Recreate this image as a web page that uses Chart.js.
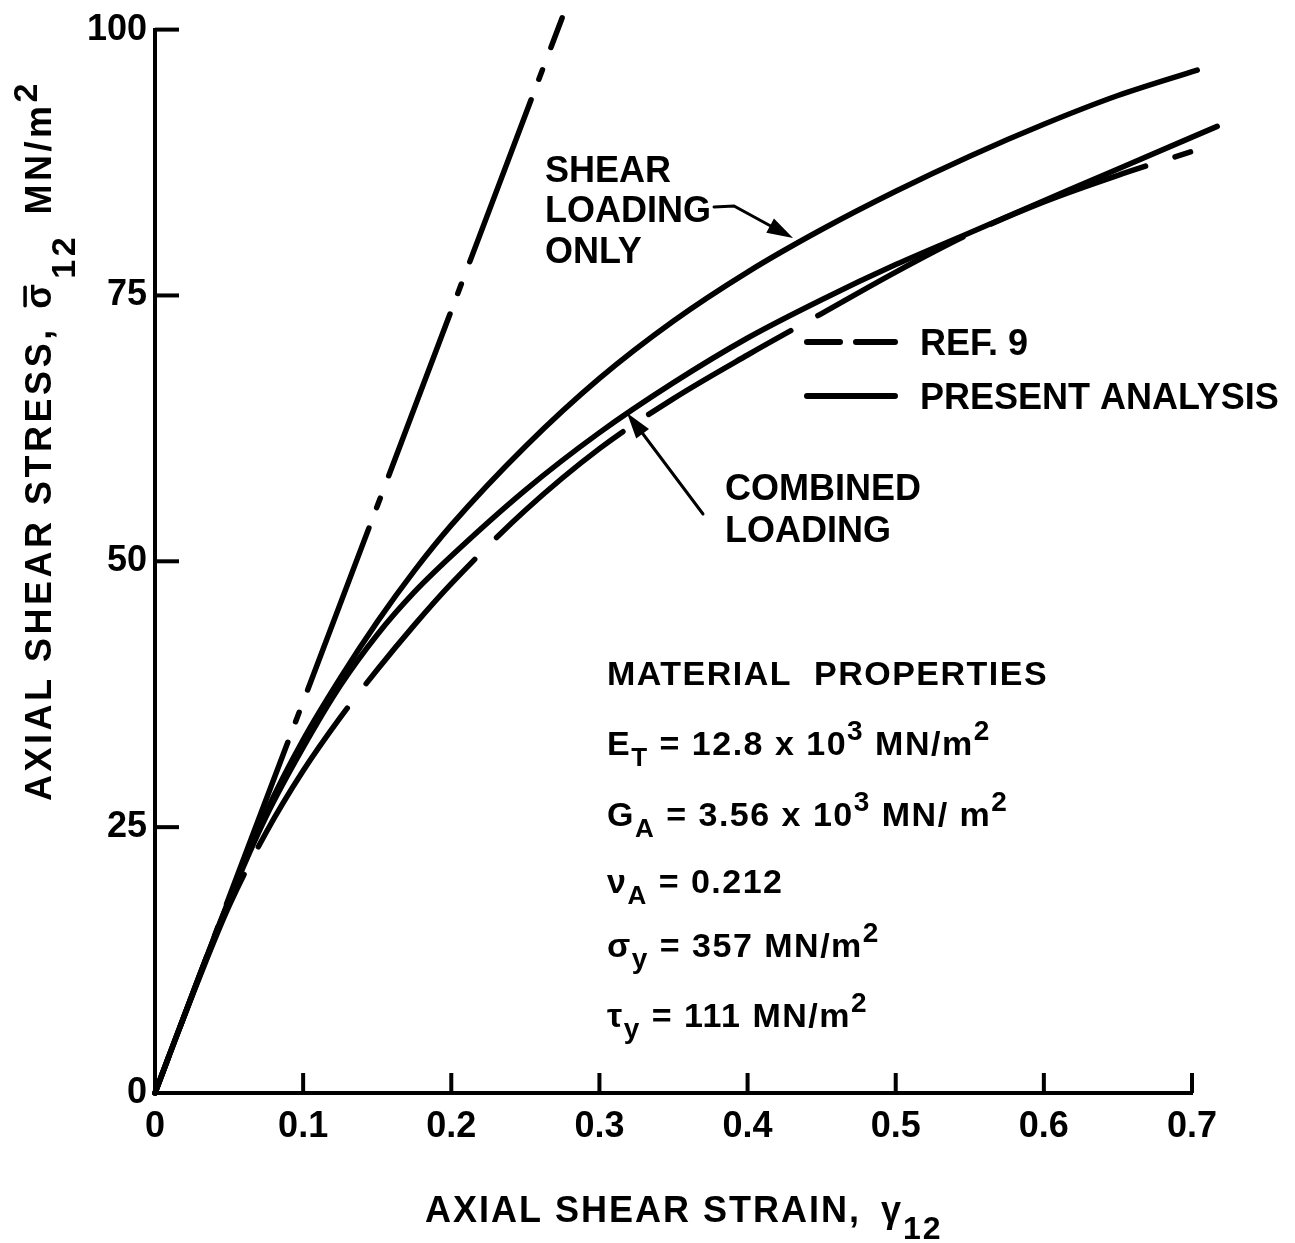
<!DOCTYPE html>
<html>
<head>
<meta charset="utf-8">
<title>Axial shear stress vs strain</title>
<script src="https://cdn.jsdelivr.net/npm/chart.js@4.4.1/dist/chart.umd.min.js"></script>
<style>
  html, body { margin: 0; padding: 0; background: #fff; }
  #wrap { width: 1295px; height: 1243px; position: relative; }
</style>
</head>
<body>
<div id="wrap"><canvas id="chart"></canvas></div>
<script>
(function () {
  'use strict';

  // --- valores
  const xTicks = [0, 0.1, 0.2, 0.3, 0.4, 0.5, 0.6, 0.7];
  const xTickLabels = ['0', '0.1', '0.2', '0.3', '0.4', '0.5', '0.6', '0.7'];
  const yTicks = [0, 25, 50, 75, 100];
  const yTickLabels = ['0', '25', '50', '75', '100'];

  // reta elástica (traço-ponto)
  const elasticX = [0, 0.2748];
  const elasticY = [0, 101.1];

  // present analysis - shear loading only
  const shearX = [0, 0.025, 0.05, 0.075, 0.1, 0.125, 0.15, 0.175, 0.2, 0.25, 0.3, 0.35, 0.4, 0.45, 0.5, 0.55, 0.6, 0.65, 0.7035];
  const shearY = [0, 9.2, 18.2, 26.4, 33.2, 39.0, 44.3, 49.1, 53.4, 60.8, 67.2, 72.6, 77.2, 81.2, 84.8, 88.1, 91.1, 93.8, 96.2];

  // present analysis - combined loading
  const combX = [0, 0.025, 0.05, 0.075, 0.1, 0.125, 0.15, 0.175, 0.2, 0.25, 0.3, 0.35, 0.4, 0.45, 0.5, 0.55, 0.6, 0.65, 0.717];
  const combY = [0, 9.2, 18.1, 26.0, 32.5, 38.3, 43.1, 47.1, 50.5, 56.7, 62.1, 66.8, 71.0, 74.6, 77.9, 80.9, 83.9, 86.9, 90.9];

  // Ref. 9 (tracejada)
  const ref9X = [0, 0.025, 0.05, 0.075, 0.1, 0.125, 0.15, 0.175, 0.2, 0.25, 0.3, 0.35, 0.4, 0.45, 0.5, 0.55, 0.6, 0.65, 0.699];
  const ref9Y = [0, 9.1, 17.6, 24.5, 30.3, 35.3, 39.8, 44.0, 47.9, 54.8, 60.6, 65.3, 69.4, 73.3, 77.2, 80.8, 83.8, 86.3, 88.5];

  const FONT = '"Liberation Sans", Arial, sans-serif';
  const INK = '#000';

  function pts(xs, ys) { return xs.map((x, i) => ({ x: x, y: ys[i] })); }

  function curve(label, xs, ys, extra) {
    return Object.assign({
      label: label,
      data: pts(xs, ys),
      borderColor: INK,
      borderWidth: 5.5,
      borderCapStyle: 'round',
      borderJoinStyle: 'round',
      pointRadius: 0,
      fill: false,
      clip: false,
      cubicInterpolationMode: 'monotone'
    }, extra || {});
  }

  // texto com sub/sobrescritos (avança da esquerda p/ direita)
  function drawRuns(ctx, x, y, runs, size, spacing, measureOnly) {
    let cx = x;
    runs.forEach(r => {
      const sz = r.size || size;
      ctx.font = `bold ${sz}px ${FONT}`;
      ctx.letterSpacing = (spacing || 0) + 'px';
      const w = ctx.measureText(r.t).width;
      if (!measureOnly) {
        ctx.fillText(r.t, cx, y + (r.dy || 0));
        if (r.bar) {
          ctx.save();
          ctx.lineWidth = 3.5;
          ctx.lineCap = 'round';
          ctx.beginPath();
          ctx.moveTo(cx + 3, y - sz * 0.72);
          ctx.lineTo(cx + w - spacing - 3, y - sz * 0.72);
          ctx.stroke();
          ctx.restore();
        }
      }
      cx += w + (r.gap || 0);
    });
    ctx.letterSpacing = '0px';
    return cx - x;
  }

  function arrowHead(ctx, fx, fy, tx, ty, len, half) {
    const a = Math.atan2(ty - fy, tx - fx);
    ctx.beginPath();
    ctx.moveTo(tx, ty);
    ctx.lineTo(tx - len * Math.cos(a) + half * Math.sin(a), ty - len * Math.sin(a) - half * Math.cos(a));
    ctx.lineTo(tx - len * Math.cos(a) - half * Math.sin(a), ty - len * Math.sin(a) + half * Math.cos(a));
    ctx.closePath();
    ctx.fill();
  }

  const figurePlugin = {
    id: 'figurePlugin',
    afterDatasetsDraw(chart) {
      const { ctx, chartArea } = chart;
      const xs = chart.scales.x, ys = chart.scales.y;
      ctx.save();
      ctx.strokeStyle = INK;
      ctx.lineWidth = 4;
      ctx.lineCap = 'butt';
      // marcas para dentro
      yTicks.forEach(v => {
        if (v === 0) return;
        const py = ys.getPixelForValue(v);
        ctx.beginPath();
        ctx.moveTo(chartArea.left, py);
        ctx.lineTo(chartArea.left + 24, py);
        ctx.stroke();
      });
      xTicks.forEach(v => {
        if (v === 0) return;
        const px = xs.getPixelForValue(v);
        ctx.beginPath();
        ctx.moveTo(px, chartArea.bottom);
        ctx.lineTo(px, chartArea.bottom - 20);
        ctx.stroke();
      });
      ctx.restore();
    },
    afterDraw(chart) {
      const { ctx } = chart;
      ctx.save();
      ctx.fillStyle = INK;
      ctx.strokeStyle = INK;
      ctx.textAlign = 'left';
      ctx.textBaseline = 'alphabetic';

      // legenda
      ctx.lineWidth = 6;
      ctx.lineCap = 'round';
      ctx.beginPath();
      ctx.moveTo(807, 342); ctx.lineTo(840, 342);
      ctx.moveTo(856, 342); ctx.lineTo(895, 342);
      ctx.moveTo(807, 396); ctx.lineTo(895, 396);
      ctx.stroke();
      ctx.font = `bold 36px ${FONT}`;
      ctx.fillText('REF. 9', 920, 355);
      ctx.fillText('PRESENT ANALYSIS', 920, 409);

      // rótulos das curvas
      ctx.fillText('SHEAR', 545, 182);
      ctx.fillText('LOADING', 545, 222);
      ctx.fillText('ONLY', 545, 263);
      ctx.fillText('COMBINED', 725, 500);
      ctx.fillText('LOADING', 725, 542);

      ctx.lineWidth = 3;
      ctx.lineCap = 'round';
      ctx.beginPath();
      ctx.moveTo(714, 207); ctx.lineTo(734, 206); ctx.lineTo(778, 230);
      ctx.stroke();
      arrowHead(ctx, 734, 206, 793, 238, 26, 8);

      ctx.beginPath();
      ctx.moveTo(703, 514); ctx.lineTo(640, 430);
      ctx.stroke();
      arrowHead(ctx, 703, 514, 627, 413, 26, 8);

      // propriedades do material
      const ms = 34, sp = 1.5;
      ctx.font = `bold ${ms}px ${FONT}`;
      ctx.letterSpacing = sp + 'px';
      ctx.fillText('MATERIAL  PROPERTIES', 607, 685);
      ctx.letterSpacing = '0px';
      drawRuns(ctx, 607, 755, [
        { t: 'E' }, { t: 'T', size: 26, dy: 11 }, { t: ' = 12.8 x 10' }, { t: '3', size: 28, dy: -15 }, { t: ' MN/m' }, { t: '2', size: 28, dy: -15 }
      ], ms, sp);
      drawRuns(ctx, 607, 826, [
        { t: 'G' }, { t: 'A', size: 26, dy: 11 }, { t: ' = 3.56 x 10' }, { t: '3', size: 28, dy: -15 }, { t: ' MN/ m' }, { t: '2', size: 28, dy: -15 }
      ], ms, sp);
      drawRuns(ctx, 607, 893, [
        { t: 'ν' }, { t: 'A', size: 26, dy: 11 }, { t: ' = 0.212' }
      ], ms, sp);
      drawRuns(ctx, 607, 957, [
        { t: 'σ' }, { t: 'y', size: 28, dy: 11 }, { t: ' = 357 MN/m' }, { t: '2', size: 28, dy: -15 }
      ], ms, sp);
      drawRuns(ctx, 607, 1027, [
        { t: 'τ' }, { t: 'y', size: 28, dy: 11 }, { t: ' = 111 MN/m' }, { t: '2', size: 28, dy: -15 }
      ], ms, sp);

      // título do eixo x
      drawRuns(ctx, 425, 1222, [
        { t: 'AXIAL SHEAR STRAIN, ', gap: 8 }, { t: 'γ' }, { t: '12', size: 32, dy: 17 }
      ], 36, 2);

      // título do eixo y (girado)
      const yRuns = [
        { t: 'AXIAL SHEAR STRESS, ', gap: 4 }, { t: 'σ', bar: true, gap: 2 }, { t: '12', size: 34, dy: 24, gap: 6 }, { t: ' MN/m' }, { t: '2', size: 34, dy: -14 }
      ];
      const ySp = 3.5;
      const w = drawRuns(ctx, 0, 0, yRuns, 36, ySp, true);
      ctx.translate(51, 80 + w);
      ctx.rotate(-Math.PI / 2);
      drawRuns(ctx, 0, 0, yRuns, 36, ySp);
      ctx.restore();
    }
  };

  new Chart(document.getElementById('chart'), {
    type: 'line',
    data: {
      datasets: [
        curve('Elastic line', elasticX, elasticY, { borderDash: [173, 22, 10, 24], borderDashOffset: 27, cubicInterpolationMode: 'default', tension: 0 }),
        curve('Ref. 9', ref9X, ref9Y, { borderDash: [165, 31], borderDashOffset: 125 }),
        curve('Present analysis - combined loading', combX, combY),
        curve('Present analysis - shear loading only', shearX, shearY)
      ]
    },
    options: {
      responsive: true,
      maintainAspectRatio: false,
      animation: false,
      layout: { padding: { left: 0, right: 103, top: 27, bottom: 0 } },
      plugins: { legend: { display: false }, tooltip: { enabled: false } },
      scales: {
        x: {
          type: 'linear',
          min: 0,
          max: 0.7,
          afterBuildTicks: (s) => { s.ticks = xTicks.map(v => ({ value: v })); },
          afterFit: (s) => { s.height = 150; },
          ticks: {
            autoSkip: false,
            maxRotation: 0,
            padding: 12,
            color: INK,
            font: { family: FONT, size: 36, weight: 'bold' },
            callback: (v) => xTickLabels[xTicks.indexOf(v)]
          },
          grid: { display: true, drawOnChartArea: false, drawTicks: false },
          border: { display: true, color: INK, width: 4 }
        },
        y: {
          type: 'linear',
          min: 0,
          max: 100,
          afterBuildTicks: (s) => { s.ticks = yTicks.map(v => ({ value: v })); },
          afterFit: (s) => { s.width = 155; },
          ticks: {
            autoSkip: false,
            padding: 8,
            color: INK,
            font: { family: FONT, size: 36, weight: 'bold' },
            callback: (v) => yTickLabels[yTicks.indexOf(v)]
          },
          grid: { display: true, drawOnChartArea: false, drawTicks: false },
          border: { display: true, color: INK, width: 4 }
        }
      }
    },
    plugins: [figurePlugin]
  });
})();
</script>
</body>
</html>
